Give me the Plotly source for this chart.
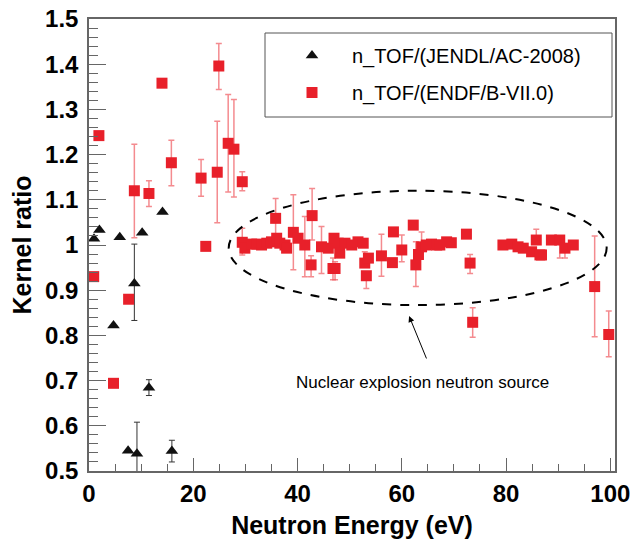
import plotly.graph_objects as go

# ---- data: n_TOF/(JENDL/AC-2008) (black triangles)
jendl_E = [0.96, 2.0, 4.7, 5.9, 7.5, 8.7, 9.2, 10.2, 11.5, 14.1, 15.9]
jendl_R = [1.014, 1.033, 0.822, 1.017, 0.545, 0.915, 0.538, 1.027, 0.684, 1.073, 0.544]
jendl_hi = [1.014, 1.033, 0.822, 1.017, 0.545, 1.002, 0.608, 1.027, 0.702, 1.073, 0.568]
jendl_lo = [1.014, 1.033, 0.822, 1.017, 0.545, 0.833, 0.470, 1.027, 0.667, 1.073, 0.520]

# ---- data: n_TOF/(ENDF/B-VII.0) (red squares)
endf_E = [0.9, 1.9, 4.7, 7.6, 8.7, 11.5, 14.0, 15.8, 21.5, 22.4, 24.6, 24.9, 26.7, 27.8, 29.4,
          29.4, 29.9, 31.2, 32.2, 33.1, 34.1, 35.0, 35.8, 36.0, 36.6, 37.6, 37.9, 39.2, 40.1,
          41.4, 42.6, 42.8, 44.6, 45.9, 46.8, 47.0, 47.2, 47.8, 48.1, 49.1, 50.4, 51.6, 52.6,
          52.9, 53.2, 53.6, 56.1, 58.2, 58.4, 60.0, 62.2, 62.7, 63.2, 63.8, 64.7, 65.7, 66.7,
          67.3, 68.6, 69.5, 72.4, 73.1, 73.6, 79.4, 81.1, 82.3, 83.3, 84.9, 85.8, 86.5, 86.8,
          88.7, 90.3, 91.3, 92.9, 97.0, 99.7]
endf_R = [0.930, 1.242, 0.694, 0.880, 1.120, 1.114, 1.358, 1.182, 1.148, 0.997, 1.161, 1.396, 1.225, 1.212, 1.140,
          1.006, 0.993, 1.002, 1.002, 1.000, 1.004, 1.007, 1.059, 1.015, 1.004, 1.000, 0.993, 1.028, 1.015,
          1.000, 0.956, 1.065, 0.996, 0.993, 0.948, 1.015, 0.948, 1.004, 0.982, 1.004, 1.000, 1.007, 1.004,
          0.960, 0.932, 0.971, 0.976, 0.961, 1.029, 0.989, 1.044, 0.956, 0.979, 0.996, 1.000, 1.002, 1.000,
          1.000, 1.007, 1.005, 1.024, 0.960, 0.829, 1.000, 1.002, 0.996, 0.993, 0.985, 1.011, 0.978, 0.978,
          1.011, 1.011, 0.993, 1.000, 0.908, 0.802]
endf_hi = [0.930, 1.242, 0.694, 0.880, 1.223, 1.142, 1.358, 1.232, 1.189, 0.997, 1.274, 1.446, 1.333, 1.322, 1.162,
           1.037, 0.993, 1.002, 1.002, 1.000, 1.004, 1.007, 1.103, 1.015, 1.004, 1.000, 0.993, 1.111, 1.015,
           1.063, 0.976, 1.125, 1.041, 0.993, 0.971, 1.015, 0.963, 1.004, 0.982, 1.004, 1.000, 1.007, 1.004,
           0.985, 0.932, 0.971, 1.024, 0.961, 1.029, 1.022, 1.044, 1.007, 0.979, 1.029, 1.000, 1.002, 1.000,
           1.000, 1.007, 1.005, 1.024, 0.979, 0.861, 1.000, 1.002, 0.996, 0.993, 0.985, 1.035, 0.978, 0.978,
           1.011, 1.011, 0.993, 1.000, 1.020, 0.854]
endf_lo = [0.930, 1.242, 0.694, 0.880, 1.016, 1.085, 1.358, 1.131, 1.108, 0.997, 1.049, 1.344, 1.117, 1.106, 1.120,
           0.978, 0.993, 1.002, 1.002, 1.000, 1.004, 1.007, 1.018, 1.015, 1.004, 1.000, 0.993, 0.945, 1.015,
           0.930, 0.930, 1.011, 0.937, 0.993, 0.923, 1.015, 0.923, 1.004, 0.982, 1.004, 1.000, 1.007, 1.004,
           0.960, 0.904, 0.971, 0.931, 0.961, 1.029, 0.963, 1.044, 0.908, 0.979, 0.996, 1.000, 1.002, 1.000,
           1.000, 1.007, 1.005, 1.024, 0.937, 0.796, 1.000, 1.002, 0.996, 0.993, 0.985, 1.011, 0.978, 0.978,
           1.011, 0.971, 0.971, 1.000, 0.797, 0.753]

legend_names = ["n_TOF/(JENDL/AC-2008)", "n_TOF/(ENDF/B-VII.0)"]
annotation_text = "Nuclear explosion neutron source"

def plus(v, hi):
    return [max(h - x, 0) for x, h in zip(v, hi)]

def minus(v, lo):
    return [max(x - l, 0) for x, l in zip(v, lo)]

fig = go.Figure()
fig.add_trace(go.Scatter(
    x=jendl_E, y=jendl_R, mode="markers", name=legend_names[0], legendgroup="a",
    marker=dict(symbol="triangle-up", size=11, color="#111111"),
    error_y=dict(type="data", symmetric=False, array=plus(jendl_R, jendl_hi),
                 arrayminus=minus(jendl_R, jendl_lo), color="#333333", thickness=1, width=3),
))
fig.add_trace(go.Scatter(
    x=endf_E, y=endf_R, mode="markers", name=legend_names[1], legendgroup="b",
    marker=dict(symbol="square", size=11, color="#e8202a"),
    error_y=dict(type="data", symmetric=False, array=plus(endf_R, endf_hi),
                 arrayminus=minus(endf_R, endf_lo), color="rgba(240,90,95,0.7)", thickness=1.5, width=3),
))

L, R, T, B = 89, 18, 19, 74
W, H = 633, 545
pw, ph = W - L - R, H - T - B

def px_x(p):
    return (p - L) / pw

def px_y(p):
    return 1 - (p - T) / ph

# dashed ellipse
fig.add_shape(type="circle", xref="x", yref="y", x0=26.8, x1=99.3, y0=0.867, y1=1.120,
              line=dict(color="black", width=2, dash="dash"))
# legend frame
fig.add_shape(type="rect", xref="paper", yref="paper",
              x0=px_x(265), x1=px_x(612), y0=px_y(117), y1=px_y(33),
              line=dict(color="#555555", width=1))

fig.add_annotation(x=61.4, y=0.843, xref="x", yref="y", ax=18, ay=44, axref="pixel", ayref="pixel",
                   text="", showarrow=True, arrowhead=2, arrowsize=1.2, arrowwidth=1, arrowcolor="black")
fig.add_annotation(x=px_x(422), y=px_y(382), xref="paper", yref="paper", text=annotation_text,
                   xanchor="center", yanchor="middle",
                   showarrow=False, font=dict(family="Liberation Sans", size=17, color="black"))

tickfont = dict(family="Liberation Sans", size=24, color="black", weight="bold")
titlefont = dict(family="Liberation Sans", size=25, color="black", weight="bold")

fig.update_layout(
    width=W, height=H, margin=dict(l=L, r=R, t=T, b=B),
    paper_bgcolor="white", plot_bgcolor="white",
    showlegend=True,
    legend=dict(x=px_x(272), y=px_y(36), xanchor="left", yanchor="top",
                bgcolor="rgba(0,0,0,0)", borderwidth=0, itemwidth=70, tracegroupgap=8,
                font=dict(family="Liberation Sans", size=20, color="black")),
    xaxis=dict(range=[0, 100.9], showline=True, mirror=True, linecolor="#666666", linewidth=1.5,
               showgrid=False, zeroline=False, ticks="inside", ticklen=13, tickcolor="#666666",
               tickvals=[0, 20, 40, 60, 80, 100], tickfont=tickfont, automargin=False,
               minor=dict(dtick=5, ticks="inside", ticklen=7, tickcolor="#666666"),
               title=dict(text="Neutron Energy (eV)", font=titlefont, standoff=11)),
    yaxis=dict(range=[0.5, 1.5], showline=True, mirror=True, linecolor="#666666", linewidth=1.5,
               showgrid=False, zeroline=False, ticks="inside", ticklen=17, tickcolor="#666666",
               tickvals=[0.5, 0.6, 0.7, 0.8, 0.9, 1.0, 1.1, 1.2, 1.3, 1.4, 1.5],
               ticktext=["0.5", "0.6", "0.7", "0.8", "0.9", "1", "1.1", "1.2", "1.3", "1.4", "1.5"],
               tickfont=tickfont, automargin=False, ticklabelstandoff=4,
               minor=dict(dtick=0.02, ticks="inside", ticklen=9, tickcolor="#666666"),
               title=dict(text="Kernel ratio", font=titlefont, standoff=6)),
)

fig.write_html("out.html", config={"displayModeBar": False},
               post_script="document.body.style.margin='0';")
